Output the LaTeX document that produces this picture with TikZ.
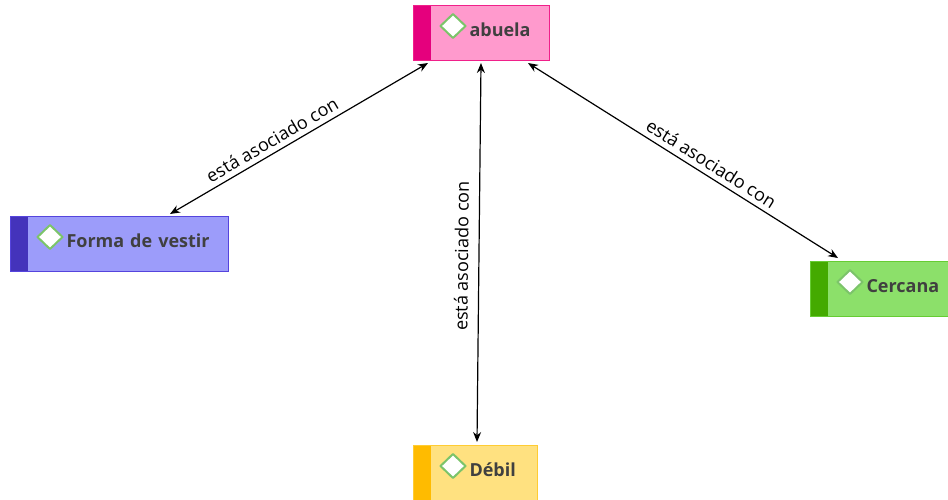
\documentclass[tikz,border=0pt]{standalone}
\usepackage{fontspec}
\setmainfont{Open Sans}
\usetikzlibrary{calc,arrows.meta}
\definecolor{txt}{HTML}{404040}
\definecolor{gemgreen}{HTML}{7CC46A}
\definecolor{pkstrip}{HTML}{E5007D}\definecolor{pkfill}{HTML}{FF9ACD}\definecolor{pkline}{HTML}{F0208A}
\definecolor{blstrip}{HTML}{4433BB}\definecolor{blfill}{HTML}{9C9CFA}\definecolor{blline}{HTML}{5544DD}
\definecolor{grstrip}{HTML}{44AA00}\definecolor{grfill}{HTML}{8CE06A}\definecolor{grline}{HTML}{66CC33}
\definecolor{ylstrip}{HTML}{FFBB00}\definecolor{ylfill}{HTML}{FFE180}\definecolor{ylline}{HTML}{FFCC33}
\tikzset{
  concept/.style n args={4}{draw=#3,fill=#2,line width=1pt,minimum height=55pt,
    inner ysep=0pt,inner xsep=4pt,text width=#1-8pt,align=left,anchor=north west,
    text height=11pt,text depth=5pt,
    font=\fontsize{18}{20}\selectfont\bfseries,text=txt,
    execute at begin node={\hspace*{52pt}},
    path picture={
      \fill[#4] (path picture bounding box.south west) rectangle ([xshift=17pt]path picture bounding box.north west);
      \draw[gemgreen,line width=2pt,fill=white,line join=round]
        ([xshift=27pt,yshift=7pt]path picture bounding box.west) -- ++(12.5pt,12pt) -- ++(12.5pt,-12pt) -- ++(-12.5pt,-12pt) -- cycle;}},
  link/.style={line width=1.2pt,{Stealth[length=10pt,width=8pt]}-{Stealth[length=10pt,width=8pt]}},
  lbl/.style={font=\fontsize{18}{20}\selectfont,text=black,inner sep=1pt}
}
\begin{document}
\begin{tikzpicture}[x=1pt,y=-1pt]
\useasboundingbox (0,0) rectangle (948,499);
\node[concept={136pt}{pkfill}{pkline}{pkstrip}] (ab) at (413,5) {abuela};
\node[concept={218pt}{blfill}{blline}{blstrip}] (fv) at (10,216) {Forma de vestir};
\node[concept={138pt}{grfill}{grline}{grstrip}] (ce) at (810,261) {Cercana};
\node[concept={124pt}{ylfill}{ylline}{ylstrip}] (de) at (413,445) {Débil};
\draw[link] ($(ab.south west)+(15,2)$) -- node[lbl,sloped,above=4pt,pos=0.58]{está asociado con} ($(fv.north west)+(160,-2)$);
\draw[link] ($(ab.south west)+(68,2)$) -- node[lbl,sloped,above=9pt,pos=0.51]{está asociado con} ($(de.north west)+(64,-3)$);
\draw[link] ($(ab.south west)+(115,2)$) -- node[lbl,sloped,above=4pt,pos=0.57]{está asociado con} ($(ce.north west)+(28,-3)$);
\end{tikzpicture}
\end{document}
